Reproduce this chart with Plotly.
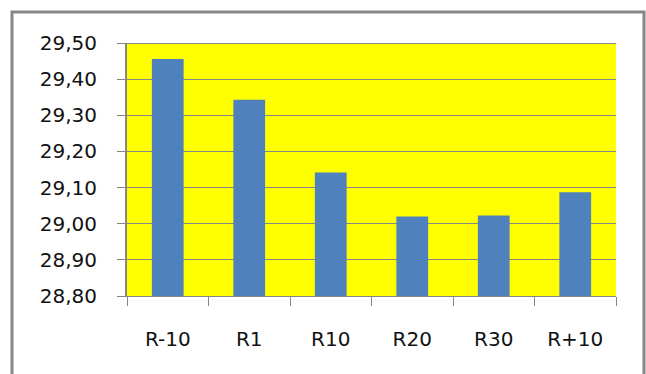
import plotly.graph_objects as go

# Series
categories = ["R-10", "R1", "R10", "R20", "R30", "R+10"]
values = [29.456, 29.343, 29.142, 29.020, 29.023, 29.087]

# Axis settings
y_min, y_max = 28.80, 29.50
y_ticks = [28.80, 28.90, 29.00, 29.10, 29.20, 29.30, 29.40, 29.50]

W, H = 646, 374
L, R, T, B = 127, 30, 43, 78
plot_w = W - L - R
plot_h = H - T - B

grey = "#868686"
font = dict(family="DejaVu Sans", size=20, color="#111111")

fig = go.Figure(
    go.Bar(
        x=categories,
        y=values,
        marker=dict(color="#4F81BD", line=dict(width=0)),
        width=0.39,
    )
)

# outer frame of the chart, in paper coordinates
def px_x(v):
    return (v - L) / plot_w

def px_y(v):
    return (H - B - v) / plot_h

fig.add_shape(
    type="rect", xref="paper", yref="paper",
    x0=px_x(12), x1=px_x(644), y0=px_y(400), y1=px_y(12),
    line=dict(color=grey, width=3), fillcolor="rgba(0,0,0,0)",
    layer="below",
)

# top edge of the plot area is drawn a little heavier than the grid
fig.add_shape(
    type="line", xref="paper", yref="y",
    x0=0, x1=1, y0=y_max, y1=y_max,
    line=dict(color=grey, width=2),
)

fig.update_layout(
    width=W, height=H,
    margin=dict(l=L, r=R, t=T, b=B, pad=0),
    paper_bgcolor="#FFFFFF",
    plot_bgcolor="#FFFF00",
    separators=", ",
    showlegend=False,
    font=font,
    xaxis=dict(
        type="category",
        showgrid=False,
        showline=True, linecolor=grey, linewidth=1,
        ticks="outside", tickson="boundaries", ticklen=9,
        tickcolor=grey, tickwidth=1,
        ticklabelstandoff=25,
        tickfont=font,
    ),
    yaxis=dict(
        range=[y_min, y_max],
        tickvals=y_ticks,
        tickformat=".2f",
        showgrid=True, gridcolor=grey, gridwidth=1,
        showline=True, linecolor=grey, linewidth=2,
        ticks="outside", ticklen=8, tickcolor=grey, tickwidth=1,
        ticklabelstandoff=16,
        tickfont=font,
        zeroline=False,
    ),
)

fig.write_html("out.html")
